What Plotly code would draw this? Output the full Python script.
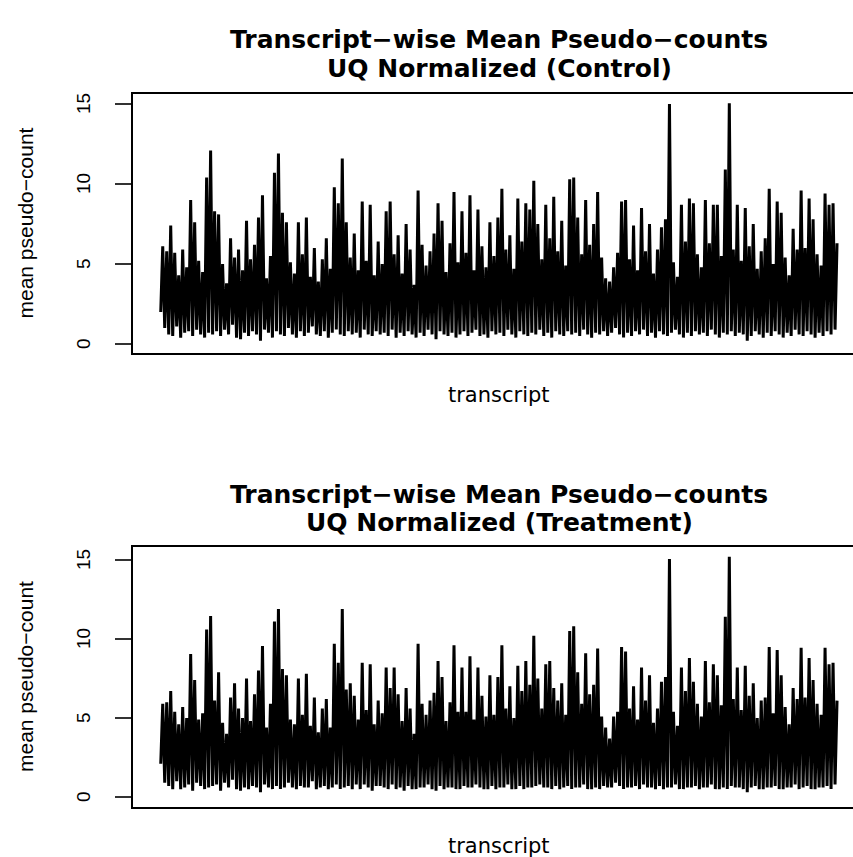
import plotly.graph_objects as go

# Transcript-wise mean pseudo-counts after upper-quartile normalization.
# Values alternate between troughs and peaks along the transcript index.
control_mean = [
    2.0, 6.1, 1.0, 5.8, 0.6, 7.4, 0.5, 5.7, 1.1, 4.3,
    0.4, 5.9, 0.7, 4.8, 0.8, 9.0, 0.5, 7.6, 0.9, 5.2,
    0.6, 4.5, 0.4, 10.4, 0.7, 12.1, 0.6, 8.3, 0.8, 8.1,
    0.5, 5.0, 0.9, 3.8, 0.6, 6.6, 1.2, 5.4, 0.4, 5.9,
    0.3, 4.6, 0.7, 7.7, 0.5, 5.3, 0.8, 6.2, 0.6, 7.9,
    0.2, 9.3, 0.9, 4.1, 0.7, 5.5, 0.4, 10.7, 0.8, 11.9,
    0.6, 8.2, 0.5, 7.6, 1.0, 5.1, 0.6, 4.4, 0.4, 7.6,
    0.8, 5.6, 0.5, 7.9, 0.7, 4.2, 1.1, 6.0, 0.6, 3.9,
    0.5, 5.3, 0.8, 6.6, 0.4, 4.7, 0.7, 9.8, 0.9, 8.8,
    0.6, 11.6, 0.5, 7.6, 0.8, 5.4, 0.6, 6.9, 0.7, 4.6,
    0.4, 8.9, 0.9, 5.2, 0.6, 8.7, 0.5, 4.3, 0.8, 6.4,
    0.6, 5.0, 0.7, 8.3, 0.5, 8.9, 0.9, 5.6, 0.4, 6.8,
    0.7, 4.4, 0.5, 7.5, 0.8, 5.9, 0.6, 3.7, 0.4, 9.6,
    0.7, 6.2, 0.5, 4.9, 0.9, 5.8, 0.6, 6.9, 0.3, 8.8,
    0.8, 7.7, 0.6, 4.5, 0.5, 6.3, 0.7, 9.5, 0.4, 5.1,
    0.6, 8.3, 0.8, 5.7, 0.5, 9.3, 0.7, 4.6, 0.9, 8.4,
    0.5, 6.1, 0.6, 4.8, 0.4, 7.6, 0.8, 5.5, 0.6, 7.9,
    0.7, 9.7, 0.5, 5.9, 0.9, 6.8, 0.6, 4.7, 0.4, 9.1,
    0.8, 6.4, 0.6, 8.8, 0.5, 8.4, 0.7, 10.2, 0.6, 7.5,
    0.9, 5.3, 0.5, 8.7, 0.7, 6.6, 0.4, 9.2, 0.8, 5.8,
    0.6, 7.7, 0.5, 4.9, 0.8, 10.3, 0.6, 10.4, 0.7, 7.9,
    0.5, 5.6, 0.9, 9.0, 0.6, 6.2, 0.4, 7.5, 0.7, 9.5,
    0.6, 5.4, 0.8, 4.1, 0.5, 3.9, 0.7, 4.8, 1.0, 5.7,
    0.6, 8.9, 0.4, 9.0, 0.7, 5.3, 0.5, 7.4, 0.8, 4.6,
    0.6, 8.5, 0.9, 5.8, 0.5, 7.5, 0.7, 4.4, 0.4, 5.9,
    0.8, 7.3, 0.6, 7.8, 0.5, 15.0, 0.7, 5.1, 0.9, 4.2,
    0.6, 8.7, 0.4, 6.4, 0.7, 9.1, 0.5, 8.8, 0.8, 5.6,
    0.6, 4.8, 0.7, 9.0, 0.5, 6.3, 0.9, 8.7, 0.6, 8.7,
    0.4, 5.5, 0.7, 10.9, 0.6, 15.05, 0.8, 5.9, 0.5, 8.7,
    0.7, 5.2, 0.6, 8.5, 0.2, 6.1, 0.5, 7.5, 0.8, 4.7,
    0.6, 5.8, 0.4, 6.6, 0.7, 9.7, 0.5, 5.0, 0.8, 8.9,
    0.6, 8.2, 0.4, 5.4, 0.7, 4.3, 0.5, 7.2, 0.9, 5.9,
    0.6, 9.6, 0.5, 6.0, 0.8, 9.1, 0.6, 7.8, 0.4, 5.6,
    0.7, 4.9, 0.5, 9.4, 0.8, 8.7, 0.6, 8.8, 0.9, 6.3,
]

treatment_mean = [
    2.1, 5.9, 0.9, 6.0, 0.7, 6.7, 0.5, 5.4, 1.0, 4.6,
    0.5, 5.7, 0.6, 5.0, 0.8, 9.05, 0.4, 7.4, 0.9, 4.9,
    0.7, 5.3, 0.5, 10.6, 0.6, 11.45, 0.7, 6.1, 0.8, 7.9,
    0.4, 4.7, 0.9, 4.0, 0.6, 6.3, 1.1, 7.2, 0.5, 5.6,
    0.4, 5.0, 0.6, 7.5, 0.5, 4.8, 0.7, 6.5, 0.6, 8.0,
    0.3, 9.55, 0.8, 4.4, 0.6, 5.9, 0.5, 11.1, 0.7, 11.9,
    0.5, 8.1, 0.6, 7.7, 0.9, 4.9, 0.6, 4.6, 0.5, 7.5,
    0.7, 5.2, 0.6, 7.8, 0.6, 4.5, 1.0, 6.3, 0.5, 4.1,
    0.6, 5.6, 0.7, 6.2, 0.5, 4.4, 0.6, 9.7, 0.8, 8.5,
    0.5, 11.9, 0.6, 6.8, 0.7, 7.2, 0.5, 6.4, 0.8, 4.9,
    0.5, 8.5, 0.8, 5.5, 0.6, 8.4, 0.4, 4.6, 0.7, 6.1,
    0.7, 5.3, 0.6, 8.2, 0.5, 6.9, 0.8, 8.2, 0.5, 6.5,
    0.6, 4.8, 0.4, 6.9, 0.7, 5.6, 0.5, 4.0, 0.5, 9.7,
    0.6, 5.9, 0.6, 5.2, 0.8, 6.1, 0.5, 6.6, 0.4, 8.6,
    0.7, 7.6, 0.5, 4.8, 0.6, 6.0, 0.6, 9.6, 0.5, 5.4,
    0.5, 8.2, 0.7, 5.4, 0.6, 8.9, 0.6, 4.9, 0.8, 8.2,
    0.6, 6.4, 0.5, 5.1, 0.5, 7.7, 0.7, 5.2, 0.5, 7.6,
    0.6, 9.6, 0.6, 5.6, 0.8, 7.0, 0.5, 5.0, 0.5, 8.3,
    0.7, 6.7, 0.5, 8.6, 0.6, 7.1, 0.6, 10.2, 0.7, 7.5,
    0.8, 5.6, 0.6, 8.4, 0.6, 8.6, 0.5, 6.9, 0.7, 6.1,
    0.5, 7.2, 0.6, 5.2, 0.7, 10.5, 0.5, 10.8, 0.6, 7.9,
    0.6, 5.9, 0.8, 9.1, 0.5, 6.5, 0.5, 7.1, 0.6, 9.4,
    0.5, 5.1, 0.7, 4.4, 0.6, 3.7, 0.6, 5.1, 0.9, 5.4,
    0.7, 9.5, 0.5, 9.2, 0.6, 5.6, 0.6, 7.0, 0.7, 4.9,
    0.5, 8.2, 0.8, 6.1, 0.6, 7.7, 0.6, 4.7, 0.5, 5.6,
    0.7, 7.3, 0.5, 7.6, 0.6, 15.06, 0.6, 5.4, 0.8, 4.5,
    0.5, 8.2, 0.5, 6.7, 0.6, 8.8, 0.6, 7.3, 0.7, 5.9,
    0.5, 5.1, 0.6, 8.6, 0.6, 6.0, 0.8, 8.4, 0.5, 7.7,
    0.5, 5.8, 0.6, 11.4, 0.5, 15.2, 0.7, 6.2, 0.6, 8.2,
    0.6, 5.5, 0.5, 8.3, 0.3, 6.4, 0.6, 7.2, 0.7, 5.0,
    0.5, 6.1, 0.5, 6.3, 0.6, 9.5, 0.6, 5.3, 0.7, 9.3,
    0.5, 7.7, 0.5, 5.7, 0.6, 4.6, 0.6, 6.9, 0.8, 6.2,
    0.5, 9.45, 0.6, 6.3, 0.7, 8.8, 0.5, 7.4, 0.5, 5.9,
    0.6, 5.2, 0.6, 9.45, 0.7, 8.4, 0.5, 8.5, 0.8, 6.1,
]

transcript_idx = list(range(1, len(control_mean) + 1))
y_ticks = [0, 5, 10, 15]
y_tick_text = ["0", "5", "10", "15"]

panel_titles = [
    ("Transcript\u2212wise Mean Pseudo\u2212counts", "UQ Normalized (Control)"),
    ("Transcript\u2212wise Mean Pseudo\u2212counts", "UQ Normalized (Treatment)"),
]
x_label = "transcript"
y_label = "mean pseudo\u2212count"

W, H = 853, 857
SANS = "Liberation Sans, Arial, Helvetica, sans-serif"
WIDE = "DejaVu Sans, Verdana, sans-serif"

fig = go.Figure()
fig.add_trace(go.Scatter(x=transcript_idx, y=control_mean, mode="lines",
                         line=dict(color="black", width=3), xaxis="x", yaxis="y",
                         showlegend=False, hoverinfo="skip"))
fig.add_trace(go.Scatter(x=transcript_idx, y=treatment_mean, mode="lines",
                         line=dict(color="black", width=3), xaxis="x2", yaxis="y2",
                         showlegend=False, hoverinfo="skip"))

# pixel geometry of the two plot frames (top, bottom) and y ranges
frames = [(94, 353, [-0.5625, 15.625]), (547, 807, [-0.633, 15.823])]
x_range = [-12.9, 348.0]
x_left_px = 133

def py(px):
    return 1 - px / H

axis_common = dict(showgrid=False, zeroline=False, linecolor="black", linewidth=1.5)
for i, (top, bot, yr) in enumerate(frames):
    sfx = "" if i == 0 else str(i + 1)
    fig.update_layout(**{
        "xaxis" + sfx: dict(domain=[x_left_px / W, 1], range=x_range, showticklabels=False,
                            ticks="", mirror=True, showline=True,
                            anchor="y" + sfx, **axis_common),
        "yaxis" + sfx: dict(domain=[py(bot), py(top)], range=yr, tickvals=y_ticks,
                            ticks="outside", ticklen=16, tickwidth=1.5, tickcolor="#333",
                            showticklabels=False, showline=True, mirror=False,
                            anchor="x" + sfx, **axis_common),
    })

centre_x = 499 / W
title_y_px = [(40, 68), (494, 522)]
xlab_y_px = [395, 846]
for i, (top, bot, yr) in enumerate(frames):
    yref = "y" if i == 0 else "y2"
    for line_text, ypx in zip(panel_titles[i], title_y_px[i]):
        fig.add_annotation(text="<b>" + line_text + "</b>", xref="paper", yref="paper",
                           x=centre_x, y=py(ypx), showarrow=False,
                           font=dict(family=WIDE, size=25, color="black"),
                           xanchor="center", yanchor="middle")
    fig.add_annotation(text=x_label, xref="paper", yref="paper",
                       x=centre_x, y=py(xlab_y_px[i]), showarrow=False,
                       font=dict(family=WIDE, size=21, color="black"),
                       xanchor="center", yanchor="middle")
    fig.add_annotation(text=y_label, xref="paper", yref="paper",
                       x=25 / W, y=py((top + bot) / 2), showarrow=False, textangle=-90,
                       font=dict(family=SANS, size=21, color="black"),
                       xanchor="center", yanchor="middle")
    for tv, tt in zip(y_ticks, y_tick_text):
        fig.add_annotation(text=tt, xref="paper", yref=yref, x=83 / W, y=tv,
                           showarrow=False, textangle=-90,
                           font=dict(family=SANS, size=19, color="black"),
                           xanchor="center", yanchor="middle")

fig.update_layout(width=W, height=H, margin=dict(l=0, r=0, t=0, b=0),
                  paper_bgcolor="white", plot_bgcolor="white")

fig.write_html("out.html")
